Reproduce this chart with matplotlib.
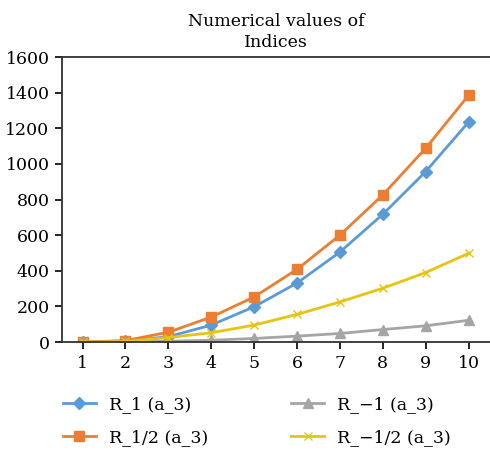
import matplotlib.pyplot as plt

# Data
x = [1, 2, 3, 4, 5, 6, 7, 8, 9, 10]
r_1 = [0, 5, 30, 95, 198, 331, 505, 717, 957, 1235]
r_half = [0, 8, 55, 140, 253, 408, 600, 826, 1088, 1385]
r_neg1 = [0, 1, 4, 10, 20, 33, 48, 70, 91, 122]
r_neghalf = [0, 3, 25, 52, 95, 155, 225, 302, 390, 498]

plt.rcParams['font.family'] = ['DejaVu Serif']
plt.rcParams['font.size'] = 12.5

fig = plt.figure(figsize=(4.9, 4.53), dpi=100)
ax = fig.add_axes([0.1265, 0.245, 0.8735, 0.629])

ax.plot(x, r_1, color='#5B9BD5', marker='D', markersize=6, lw=2, label='R_1 (a_3)')
ax.plot(x, r_half, color='#ED7D31', marker='s', markersize=7, lw=2, label='R_1/2 (a_3)')
ax.plot(x, r_neg1, color='#A5A5A5', marker='^', markersize=7, lw=2, label='R_\u22121 (a_3)')
ax.plot(x, r_neghalf, color='#E8C412', marker='x', markersize=6, lw=2, label='R_\u22121/2 (a_3)')

ax.set_xlim(0.52, 10.5)
ax.set_ylim(0, 1600)
ax.set_xticks(x)
ax.set_yticks(range(0, 1601, 200))
ax.spines['right'].set_visible(False)
for s in ['left', 'bottom', 'top']:
    ax.spines[s].set_linewidth(1.3)
    ax.spines[s].set_color('#333333')
ax.tick_params(direction='out', length=5, width=1.2, pad=4)

ax.set_title('Numerical values of\nIndices', fontsize=12.5, linespacing=1.3, pad=7)

ax.legend(loc='upper left', bbox_to_anchor=(-0.035, -0.135), ncol=2, frameon=False,
          columnspacing=4.8, handlelength=1.9, handletextpad=0.75, labelspacing=0.9)

fig.savefig('out.png', dpi=100)
